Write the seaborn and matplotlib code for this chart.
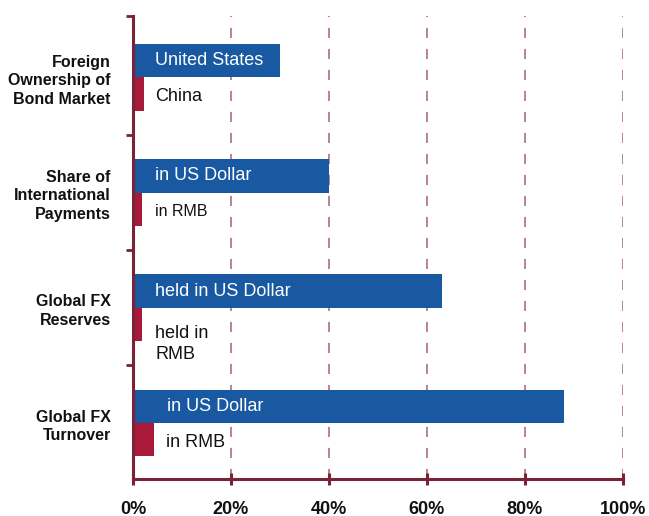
import matplotlib
matplotlib.use("Agg")
import matplotlib.pyplot as plt
import pandas as pd
import seaborn as sns

# chart data
categories = [
    "Foreign\nOwnership of\nBond Market",
    "Share of\nInternational\nPayments",
    "Global FX\nReserves",
    "Global FX\nTurnover",
]
usd_values = [30, 40, 63, 88]
cny_values = [2.2, 1.8, 1.8, 4.2]
usd_labels = ["United States", "in US Dollar", "held in US Dollar", "in US Dollar"]
cny_labels = ["China", "in RMB", "held in\nRMB", "in RMB"]
x_ticks = [0, 20, 40, 60, 80, 100]

# styling
BLUE = "#1859A2"
RED = "#A8193A"
SPINE = "#7A2236"
GRID = "#B8848F"
usd_label_x = [4.5, 4.5, 4.5, 7.0]
cny_label_x = [4.5, 4.5, 4.5, 6.8]
cny_label_size = [13, 11.5, 13, 13]
Y_TOP, Y_BOTTOM = -0.534, 3.486

df = pd.DataFrame({
    "category": categories * 2,
    "series": ["US"] * len(categories) + ["China"] * len(categories),
    "share": usd_values + cny_values,
})

sns.set_style("white")
plt.rcParams["font.family"] = ["Liberation Sans", "DejaVu Sans"]

fig = plt.figure(figsize=(6.49, 5.16), dpi=100)
ax = fig.add_axes([0.2049, 0.0717, 0.7550, 0.8973])

sns.barplot(
    data=df, x="share", y="category", hue="series", hue_order=["US", "China"],
    palette={"US": BLUE, "China": RED}, orient="h", width=0.58, dodge=True,
    saturation=1, errorbar=None, legend=False, ax=ax, zorder=3, linewidth=0,
)

ax.set_xlim(0, 100)
ax.set_ylim(Y_BOTTOM, Y_TOP)
ax.set_xlabel("")
ax.set_ylabel("")

# dashed vertical grid
ax.set_xticks(x_ticks)
ax.set_xticklabels([f"{v}%" for v in x_ticks], fontweight="bold", fontsize=13,
                   color="#111111")
ax.xaxis.grid(True, color=GRID, linewidth=1.4, linestyle=(0, (5.2, 5.6)), zorder=0)
ax.yaxis.grid(False)
ax.set_axisbelow(True)

ax.tick_params(axis="x", bottom=True, direction="inout", length=8, width=2.2,
               color=SPINE, pad=11.5)
ax.tick_params(axis="y", which="major", left=True, length=0, pad=16)
ax.set_yticks([Y_TOP, 0.5, 1.5, 2.5], minor=True)
ax.tick_params(axis="y", which="minor", left=True, direction="out", length=5,
               width=2, color=SPINE)

for lbl in ax.get_yticklabels():
    lbl.set_fontweight("bold")
    lbl.set_fontsize(11.5)
    lbl.set_linespacing(1.28)
    lbl.set_color("#111111")

for side in ["top", "right"]:
    ax.spines[side].set_visible(False)
for side in ["left", "bottom"]:
    ax.spines[side].set_color(SPINE)
    ax.spines[side].set_linewidth(2.2)
    ax.spines[side].set_zorder(4)

# in-bar labels, placed from the drawn bars
bars = sorted(ax.patches, key=lambda p: p.get_y())
usd_bars = bars[0::2]
cny_bars = bars[1::2]
for i, bar in enumerate(usd_bars):
    yc = bar.get_y() + bar.get_height() / 2
    ax.text(usd_label_x[i], yc, usd_labels[i], color="white", fontsize=13,
            va="center", ha="left", zorder=5)
for i, bar in enumerate(cny_bars):
    yc = bar.get_y() + bar.get_height() / 2
    if "\n" in cny_labels[i]:
        yc += 0.15
    ax.text(cny_label_x[i], yc + 0.02, cny_labels[i], color="#111111",
            fontsize=cny_label_size[i], va="center", ha="left",
            linespacing=1.3, zorder=5)

fig.savefig("out.png", dpi=100)
